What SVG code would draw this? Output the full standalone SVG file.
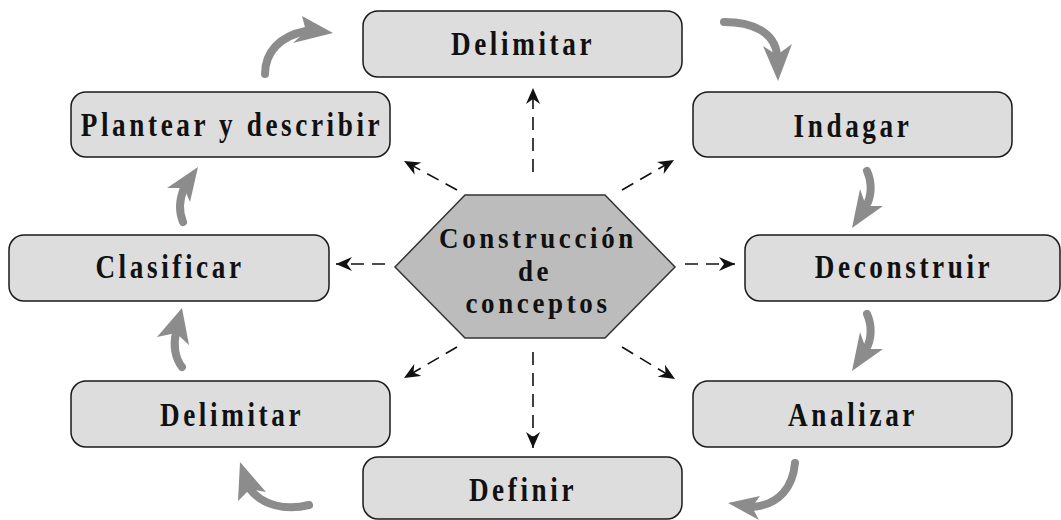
<svg xmlns="http://www.w3.org/2000/svg" width="1061" height="520" viewBox="0 0 1061 520">
<style>
.box{fill:#dddddd;stroke:#1a1a1a;stroke-width:1.5}
.hex{fill:#bcbcbc;stroke:#333333;stroke-width:1.5}
.lbl{font-family:"Liberation Serif","Times New Roman",serif;font-weight:bold;font-size:34px;letter-spacing:4.5px;text-anchor:middle;fill:#111111}
.hlbl{font-family:"Liberation Serif","Times New Roman",serif;font-weight:bold;font-size:29px;letter-spacing:3.9px;text-anchor:middle;fill:#111111}
.dash{fill:none;stroke:#111111;stroke-width:1.6;stroke-dasharray:13 8}
.flow{fill:none;stroke:#8c8c8c;stroke-width:8;stroke-linecap:round}
.head{fill:#8c8c8c}
</style>
<defs>
<marker id="ah" markerUnits="userSpaceOnUse" markerWidth="18" markerHeight="14" refX="16" refY="7" orient="auto">
<path d="M0,0 L16,7 L0,14 L5,7 z" fill="#111111"/>
</marker>
</defs>
<g id="connectors">
<path class="dash" d="M533,172 L533,88" marker-end="url(#ah)"/>
<path class="dash" d="M457,190 L404,161" marker-end="url(#ah)"/>
<path class="dash" d="M622,190 L674,160" marker-end="url(#ah)"/>
<path class="dash" d="M385,264 L336,264" marker-end="url(#ah)"/>
<path class="dash" d="M685,264 L735,264" marker-end="url(#ah)"/>
<path class="dash" d="M533,352 L533,448" marker-end="url(#ah)"/>
<path class="dash" d="M457,347 L404,378" marker-end="url(#ah)"/>
<path class="dash" d="M622,347 L675,379" marker-end="url(#ah)"/>
<path class="flow" d="M265,74 C265,52 280,36 306,31"/>
<polygon class="head" points="333,33 302,16 306,31 293,43"/>
<path class="flow" d="M724,22 C752,22 775,32 777,55"/>
<polygon class="head" points="778,81 763,46 777,55 792,44"/>
<path class="flow" d="M867,171 C872,182 872,196 866,206"/>
<polygon class="head" points="852,228 860,189 866,206 883,206"/>
<path class="flow" d="M867,314 C872,325 872,339 866,349"/>
<polygon class="head" points="852,371 860,332 866,349 883,349"/>
<path class="flow" d="M795,463 C793,486 780,505 752,507"/>
<polygon class="head" points="728,503 760,496 752,507 759,520"/>
<path class="flow" d="M309,505 C285,511 262,505 250,489"/>
<polygon class="head" points="240,462 238,501 250,489 266,492"/>
<path class="flow" d="M182,367 C175,358 173,345 176,333"/>
<polygon class="head" points="182,308 157,337 176,333 189,345"/>
<path class="flow" d="M183,222 C178,210 180,198 184,188"/>
<polygon class="head" points="198,167 167,188 184,188 190,202"/>
</g>
<g id="n-center">
<polygon class="hex" points="465,195 605,195 675,267 605,338 465,338 395,267"/>
<text class="hlbl" transform="translate(538,248) scale(0.93,1)">Construcción</text>
<text class="hlbl" transform="translate(535,281) scale(0.93,1)">de</text>
<text class="hlbl" transform="translate(538,313) scale(0.93,1)">conceptos</text>
</g>
<g id="n-delimitar-top">
<rect class="box" x="363" y="11" width="319" height="66" rx="15"/>
<text class="lbl" transform="translate(523,55) scale(0.8,1)">Delimitar</text>
</g>
<g id="n-indagar">
<rect class="box" x="693" y="92" width="319" height="65" rx="15"/>
<text class="lbl" transform="translate(853,137) scale(0.8,1)">Indagar</text>
</g>
<g id="n-plantear">
<rect class="box" x="71" y="92" width="319" height="65" rx="15"/>
<text class="lbl" transform="translate(232,136) scale(0.8,1)">Plantear y describir</text>
</g>
<g id="n-clasificar">
<rect class="box" x="9" y="235" width="320" height="66" rx="15"/>
<text class="lbl" transform="translate(170,278) scale(0.8,1)">Clasificar</text>
</g>
<g id="n-deconstruir">
<rect class="box" x="745" y="235" width="315" height="66" rx="15"/>
<text class="lbl" transform="translate(904,278) scale(0.8,1)">Deconstruir</text>
</g>
<g id="n-delimitar-bottom">
<rect class="box" x="71" y="381" width="319" height="66" rx="15"/>
<text class="lbl" transform="translate(232,426) scale(0.8,1)">Delimitar</text>
</g>
<g id="n-analizar">
<rect class="box" x="693" y="381" width="319" height="66" rx="15"/>
<text class="lbl" transform="translate(853,426) scale(0.8,1)">Analizar</text>
</g>
<g id="n-definir">
<rect class="box" x="363" y="457" width="319" height="62" rx="15"/>
<text class="lbl" transform="translate(523,501) scale(0.8,1)">Definir</text>
</g>
</svg>
